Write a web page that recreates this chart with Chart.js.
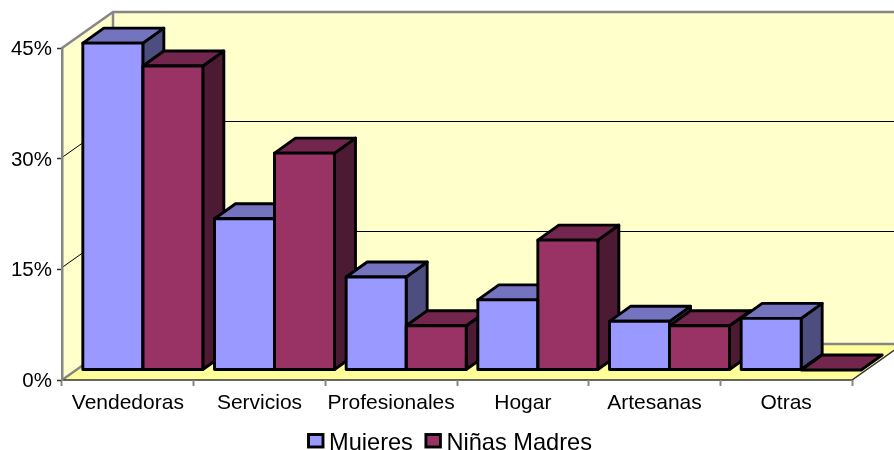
<!DOCTYPE html>
<html>
<head>
<meta charset="utf-8">
<style>
    html, body { margin: 0; padding: 0; background: #fff; overflow: hidden; }
    canvas { display: block; }
</style>
<script src="https://cdn.jsdelivr.net/npm/chart.js@4/dist/chart.umd.js"></script>
</head>
<body>
<canvas id="myChart" width="894" height="450"></canvas>
<script>
const categories = ["Vendedoras", "Servicios", "Profesionales", "Hogar", "Artesanas", "Otras"];
const mujeres = [44.3, 20.5, 12.6, 9.5, 6.6, 7.0];
const ninasMadres = [41.2, 29.4, 6.0, 17.6, 6.0, 0];
const yTicks = [0, 15, 30, 45];

// 3D look: how far the back wall sits from the front plane, and the bars inside it
const wallDepth = { x: 51, y: 36 };
const barOffset = { x: 15, y: 10 };
const barDepth = { x: 21, y: 15 };
const lineGray = "#868686";
const barLine = 2.9;

const wallsPlugin = {
    id: "walls",
    beforeDraw(chart) {
        const { ctx, chartArea: a } = chart;
        const y = chart.scales.y;
        const dx = wallDepth.x, dy = wallDepth.y;
        ctx.save();
        // side wall
        ctx.fillStyle = "#FFFFCC";
        ctx.beginPath();
        ctx.moveTo(a.left, a.top);
        ctx.lineTo(a.left + dx, a.top - dy);
        ctx.lineTo(a.left + dx, a.bottom - dy);
        ctx.lineTo(a.left, a.bottom);
        ctx.closePath();
        ctx.fill();
        // back wall
        ctx.fillRect(a.left + dx, a.top - dy, a.right - a.left, a.bottom - a.top);
        // floor
        ctx.fillStyle = "#FFFF99";
        ctx.beginPath();
        ctx.moveTo(a.left, a.bottom);
        ctx.lineTo(a.left + dx, a.bottom - dy);
        ctx.lineTo(a.right + dx, a.bottom - dy);
        ctx.lineTo(a.right, a.bottom);
        ctx.closePath();
        ctx.fill();
        // gridlines, along the side wall then the back wall
        ctx.strokeStyle = "#000";
        ctx.lineWidth = 1;
        yTicks.slice(1, -1).forEach((v) => {
            const py = Math.round(y.getPixelForValue(v)) - 1.5;
            ctx.beginPath();
            ctx.moveTo(a.left, py);
            ctx.lineTo(a.left + dx, py - dy);
            ctx.lineTo(a.right + dx, py - dy);
            ctx.stroke();
        });
        // wall outlines
        ctx.strokeStyle = lineGray;
        ctx.lineWidth = 2.5;
        ctx.beginPath();
        ctx.moveTo(a.left, a.top);
        ctx.lineTo(a.left + dx, a.top - dy);
        ctx.lineTo(a.right + dx, a.top - dy);
        ctx.moveTo(a.left + dx, a.top - dy);
        ctx.lineTo(a.left + dx, a.bottom - dy);
        ctx.lineTo(a.right + dx, a.bottom - dy);
        ctx.moveTo(a.left, a.bottom);
        ctx.lineTo(a.left + dx, a.bottom - dy);
        ctx.stroke();
        // front edge of the floor, running up on the right
        ctx.strokeStyle = "#333";
        ctx.lineWidth = 1.5;
        ctx.beginPath();
        ctx.moveTo(a.left, a.bottom);
        ctx.lineTo(a.right, a.bottom);
        ctx.lineTo(a.right + dx, a.bottom - dy);
        ctx.stroke();
        ctx.restore();
    },
};

function face(ctx, pts, fill) {
    ctx.beginPath();
    pts.forEach((p, i) => (i ? ctx.lineTo(p[0], p[1]) : ctx.moveTo(p[0], p[1])));
    ctx.closePath();
    ctx.fillStyle = fill;
    ctx.fill();
    ctx.stroke();
}

const bars3dPlugin = {
    id: "bars3d",
    beforeDatasetsDraw(chart) {
        const { ctx } = chart;
        ctx.save();
        ctx.translate(barOffset.x, -barOffset.y);
        ctx.strokeStyle = "#000";
        ctx.lineWidth = barLine;
        ctx.lineJoin = "round";
        // sides and tops go left to right so each bar covers the one before it
        categories.forEach((c, i) => {
            chart.data.datasets.forEach((ds, d) => {
                const bar = chart.getDatasetMeta(d).data[i];
                const l = bar.x - bar.width / 2, r = bar.x + bar.width / 2;
                const t = bar.y, b = bar.base;
                const dx = barDepth.x, dy = barDepth.y;
                if (b - t > 0) face(ctx, [[r, t], [r + dx, t - dy], [r + dx, b - dy], [r, b]], ds.sideColor);
                face(ctx, [[l, t], [l + dx, t - dy], [r + dx, t - dy], [r, t]], ds.topColor);
            });
        });
    },
    afterDatasetsDraw(chart) {
        const { ctx } = chart;
        ctx.strokeStyle = "#000";
        ctx.lineWidth = barLine;
        chart.data.datasets.forEach((ds, d) => {
            chart.getDatasetMeta(d).data.forEach((bar) => {
                if (bar.base - bar.y > 0) ctx.strokeRect(bar.x - bar.width / 2, bar.y, bar.width, bar.base - bar.y);
            });
        });
        ctx.restore();
    },
};

// native legend puts a fixed half-font gap after the box, so it is drawn here
const legendPlugin = {
    id: "bottomLegend",
    afterDraw(chart) {
        const { ctx } = chart;
        let x = 308.5;
        const baseline = 450;
        ctx.save();
        ctx.font = '23.6px "Liberation Sans", Arial, sans-serif';
        ctx.textBaseline = "alphabetic";
        chart.data.datasets.forEach((ds) => {
            ctx.fillStyle = ds.backgroundColor;
            ctx.strokeStyle = "#000";
            ctx.lineWidth = barLine;
            ctx.fillRect(x, 434.5, 14.5, 12.5);
            ctx.strokeRect(x, 434.5, 14.5, 12.5);
            ctx.fillStyle = "#000";
            ctx.fillText(ds.label, x + 20.5, baseline);
            x += 20.5 + ctx.measureText(ds.label).width + 13;
        });
        ctx.restore();
    },
};

Chart.defaults.font.family = '"Liberation Sans", Arial, sans-serif';
Chart.defaults.color = "#000";

new Chart(document.getElementById("myChart"), {
    type: "bar",
    data: {
        labels: categories,
        datasets: [
            {
                label: "Mujeres",
                data: mujeres,
                backgroundColor: "#9999FF",
                topColor: "#7373BF",
                sideColor: "#4D4D80",
                clip: false,
            },
            {
                label: "Niñas Madres",
                data: ninasMadres,
                backgroundColor: "#993366",
                topColor: "#73264D",
                sideColor: "#4D1A33",
                clip: false,
            },
        ],
    },
    options: {
        responsive: false,
        animation: false,
        borderWidth: 0,
        categoryPercentage: 120 / 131.67,
        barPercentage: 1,
        layout: { padding: { top: 48, right: 42 } },
        plugins: {
            legend: { display: false },
            tooltip: { enabled: false },
        },
        scales: {
            x: {
                afterFit: (s) => { s.height = 70; },
                grid: { drawOnChartArea: false, tickLength: 6, tickColor: lineGray, tickWidth: 2 },
                border: { display: false },
                ticks: { font: { size: 21 }, padding: 5, maxRotation: 0, autoSkip: false },
            },
            y: {
                min: 0,
                max: 45,
                afterFit: (s) => { s.width = 62; },
                afterBuildTicks: (s) => { s.ticks = yTicks.map((v) => ({ value: v })); },
                grid: { drawOnChartArea: false, tickLength: 5, tickColor: "#333", tickWidth: 1.5 },
                border: { color: lineGray, width: 2.5 },
                ticks: { font: { size: 20.5 }, padding: 5, labelOffset: 1.5, callback: (v) => v + "%" },
            },
        },
    },
    plugins: [wallsPlugin, bars3dPlugin, legendPlugin],
});
</script>
</body>
</html>
